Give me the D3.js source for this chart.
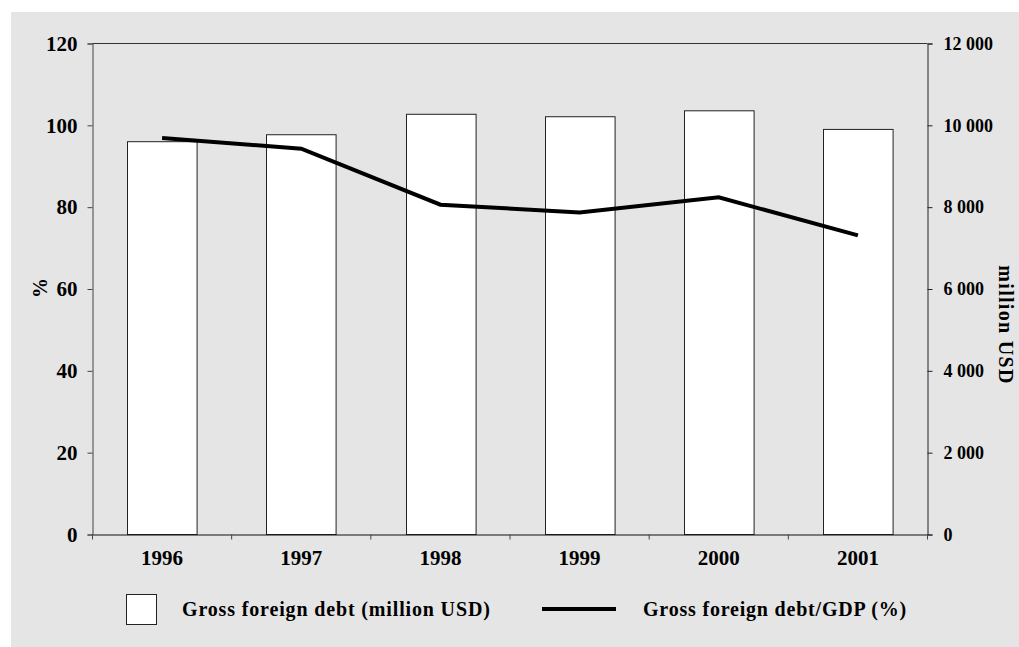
<!DOCTYPE html>
<html>
<head>
<meta charset="utf-8">
<script src="https://cdn.jsdelivr.net/npm/d3@7"></script>
<style>
  html, body { margin: 0; padding: 0; background: #ffffff; }
  svg text { font-family: "Liberation Serif", "Times New Roman", serif; font-weight: bold; fill: #000; }
</style>
</head>
<body>
<svg id="chart" width="1019" height="647"></svg>
<script>
const years = ["1996", "1997", "1998", "1999", "2000", "2001"];
const debtUSD = [9600, 9770, 10270, 10210, 10355, 9900];
const debtGDP = [96.9, 94.3, 80.6, 78.7, 82.4, 73.1];
const leftTicks = [0, 20, 40, 60, 80, 100, 120];
const rightTicks = [0, 2000, 4000, 6000, 8000, 10000, 12000];
const legendLabels = ["Gross foreign debt (million USD)", "Gross foreign debt/GDP (%)"];

const svg = d3.select("#chart");
svg.append("rect").attr("x", 11).attr("y", 12).attr("width", 1008).attr("height", 635).attr("fill", "#e5e5e5");

const m = { left: 92.5, right: 927.5, top: 43.5, bottom: 534.5 };
const x = d3.scaleBand().domain(years).range([m.left, m.right]).paddingInner(0.5).paddingOuter(0.25);
const xb = d3.scaleBand().domain(years).range([m.left, m.right]).padding(0);
const yL = d3.scaleLinear().domain([0, 120]).range([m.bottom, m.top]);
const yR = d3.scaleLinear().domain([0, 12000]).range([m.bottom, m.top]);

// top frame
svg.append("line").attr("x1", m.left).attr("x2", m.right).attr("y1", m.top).attr("y2", m.top)
  .attr("stroke", "#333").attr("stroke-width", 1);

// bars
svg.append("g").selectAll("rect").data(years).join("rect")
  .attr("x", d => Math.round(x(d)) + 0.5)
  .attr("y", (d, i) => yR(debtUSD[i]))
  .attr("width", x.bandwidth())
  .attr("height", (d, i) => m.bottom - yR(debtUSD[i]))
  .attr("fill", "#fff").attr("stroke", "#222").attr("stroke-width", 1);

// line
const line = d3.line().x((d, i) => x(years[i]) + x.bandwidth() / 2).y(d => yL(d));
svg.append("path").datum(debtGDP).attr("d", line)
  .attr("fill", "none").attr("stroke", "#000").attr("stroke-width", 4).attr("stroke-linejoin", "miter");

// left axis
const gL = svg.append("g").attr("transform", `translate(${m.left},0)`)
  .call(d3.axisLeft(yL).tickValues(leftTicks).tickSize(5).tickPadding(10));
gL.selectAll("text").style("font-size", "21px");
gL.selectAll("line, path").attr("stroke", "#444");

// right axis
const gR = svg.append("g").attr("transform", `translate(${m.right},0)`)
  .call(d3.axisRight(yR).tickValues(rightTicks).tickSize(5).tickPadding(11)
    .tickFormat(v => d3.format(",")(v).replace(/,/g, " ")));
gR.selectAll("text").style("font-size", "18px");
gR.selectAll("line, path").attr("stroke", "#222");

// bottom axis
const gB = svg.append("g").attr("transform", `translate(0,${m.bottom})`)
  .call(d3.axisBottom(x).tickSize(0).tickPadding(16));
gB.select("path").attr("stroke", "#111");
gB.selectAll("text").style("font-size", "21px").attr("dy", "0.71em");
svg.append("g").selectAll("line").data(years.concat(["end"])).join("line")
  .attr("x1", (d, i) => i < years.length ? xb(d) : m.right)
  .attr("x2", (d, i) => i < years.length ? xb(d) : m.right)
  .attr("y1", m.bottom).attr("y2", m.bottom + 5)
  .attr("stroke", "#444");

// axis titles
svg.append("text").attr("transform", "translate(47,288) rotate(-90)")
  .attr("text-anchor", "middle").style("font-size", "20px").text("%");
svg.append("text").attr("transform", "translate(999,325) rotate(90)")
  .attr("text-anchor", "middle").style("font-size", "20px").style("letter-spacing", "1.3px").text("million USD");

// legend
const lg = svg.append("g");
lg.append("rect").attr("x", 126.5).attr("y", 594.5).attr("width", 30).attr("height", 30)
  .attr("fill", "#fff").attr("stroke", "#222");
lg.append("text").attr("x", 182).attr("y", 616).style("font-size", "20px")
  .style("letter-spacing", "0.85px").text(legendLabels[0]);
lg.append("line").attr("x1", 542).attr("x2", 616).attr("y1", 609).attr("y2", 609)
  .attr("stroke", "#000").attr("stroke-width", 4);
lg.append("text").attr("x", 643).attr("y", 616).style("font-size", "20px")
  .style("letter-spacing", "0.8px").text(legendLabels[1]);
</script>
</body>
</html>
